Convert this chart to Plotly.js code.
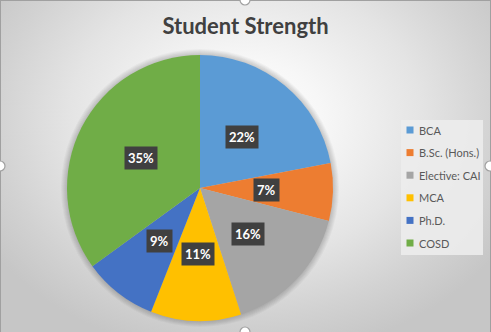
<!DOCTYPE html>
<html><head><meta charset="utf-8">
<script src="https://cdn.plot.ly/plotly-3.0.1.min.js"></script>
<style>
html,body{margin:0;padding:0;background:#fff;}
#chart{width:491px;height:332px;
background: radial-gradient(ellipse 62% 72% at 50% 36%, #ffffff 0%, #f7f7f7 25%, #e4e4e4 58%, #d2d2d2 82%, #c6c6c6 100%);
box-shadow: inset 1px 1px 0 #a0a0a0, inset -1px 0 0 #a0a0a0;}
</style></head>
<body>
<div id="chart"></div>
<script>
// ---- data ----
const categories = ['BCA', 'B.Sc. (Hons.)', 'Elective: CAI', 'MCA', 'Ph.D.', 'COSD'];
const shares = [22, 7, 16, 11, 9, 35];
const colors = ['#5B9BD5', '#ED7D31', '#A5A5A5', '#FFC000', '#4472C4', '#70AD47'];
const chartTitle = 'Student Strength';

// ---- geometry / style ----
const W = 491, H = 332;
const CX = 200, CY = 188, R = 133;
const FONT = 'Lato, "Open Sans", sans-serif';

const px2x = p => p / W;
const px2y = p => 1 - p / H;

const total = shares.reduce((a, b) => a + b, 0);

const trace = {
  type: 'pie',
  labels: categories,
  values: shares,
  sort: false,
  direction: 'clockwise',
  rotation: 0,
  textinfo: 'none',
  hoverinfo: 'label+percent',
  marker: {colors: colors, line: {width: 0}},
  domain: {x: [px2x(CX - R), px2x(CX + R)], y: [px2y(CY + R), px2y(CY - R)]},
  showlegend: false
};

const annotations = [];
const shapes = [];

// soft halo around the pie
for (let k = 1; k <= 6; k++) {
  const rr = R + k;
  shapes.push({type: 'circle', xref: 'paper', yref: 'paper', layer: 'below',
    x0: px2x(CX - rr), x1: px2x(CX + rr), y0: px2y(CY + rr), y1: px2y(CY - rr),
    fillcolor: 'rgba(0,0,0,0.03)', line: {width: 0}});
}

// percentage labels (placed at half radius on each slice's mid angle)
let cum = 0;
shares.forEach((v, i) => {
  const mid = (cum + v / 2) / total * 2 * Math.PI;
  cum += v;
  const lx = CX + 0.5 * R * Math.sin(mid);
  const ly = CY - 0.5 * R * Math.cos(mid);
  const txt = Math.round(v / total * 100) + '%';
  annotations.push({x: px2x(lx), y: px2y(ly), xref: 'paper', yref: 'paper', showarrow: false,
    xanchor: 'center', yanchor: 'middle',
    text: txt, font: {family: FONT, size: 13, color: '#ffffff', weight: 'bold'},
    bgcolor: '#404040', borderpad: 3});
});

// legend box
const LX0 = 401, LX1 = 483, LY0 = 120, LY1 = 255, LSTEP = 22.6, LFIRST = 130;
shapes.push({type: 'rect', xref: 'paper', yref: 'paper', layer: 'below',
  x0: px2x(LX0), x1: px2x(LX1), y0: px2y(LY1), y1: px2y(LY0),
  fillcolor: 'rgba(236,236,236,0.9)', line: {width: 0}});
categories.forEach((c, i) => {
  const yc = LFIRST + i * LSTEP;
  shapes.push({type: 'rect', xref: 'paper', yref: 'paper',
    x0: px2x(406.5), x1: px2x(413.5), y0: px2y(yc + 3.5), y1: px2y(yc - 3.5),
    fillcolor: colors[i], line: {width: 0}});
  annotations.push({x: px2x(417), y: px2y(yc), xref: 'paper', yref: 'paper', showarrow: false,
    xanchor: 'left', yanchor: 'middle', text: c,
    font: {family: FONT, size: 11, color: '#595959'}});
});

// selection handles on the frame
[[245, 0], [0, 166], [490, 166], [245, 332]].forEach(([hx, hy]) => {
  shapes.push({type: 'circle', xref: 'paper', yref: 'paper', layer: 'above',
    x0: px2x(hx - 5), x1: px2x(hx + 5), y0: px2y(hy + 5), y1: px2y(hy - 5),
    fillcolor: '#ffffff', line: {color: '#a0a0a0', width: 1.2}});
});

const layout = {
  width: W, height: H,
  margin: {l: 0, r: 0, t: 0, b: 0, autoexpand: false},
  paper_bgcolor: 'rgba(0,0,0,0)',
  plot_bgcolor: 'rgba(0,0,0,0)',
  title: {text: chartTitle, x: 0.5, xanchor: 'center', y: 1 - 26 / H, yanchor: 'middle',
    font: {family: FONT, size: 22, color: '#404040', weight: 'bold'}},
  showlegend: false,
  annotations: annotations,
  shapes: shapes
};

Plotly.newPlot('chart', [trace], layout, {displayModeBar: false, staticPlot: true});
</script>
</body></html>
